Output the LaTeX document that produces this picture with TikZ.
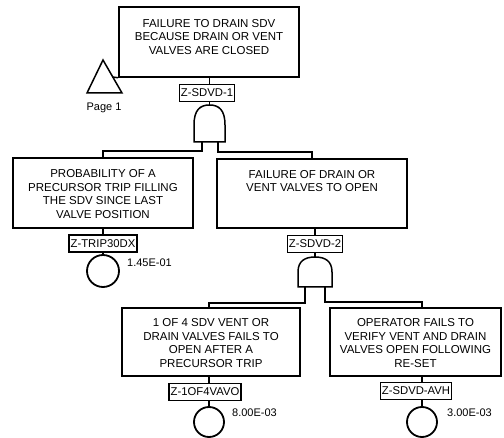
\documentclass[tikz,border=0pt]{standalone}
\usepackage{fontspec}
\setmainfont{Liberation Sans}
\tikzset{
 evbox/.style={draw, line width=1.5pt, inner sep=0pt},
 evtext/.style={align=center, font=\fontsize{11.5}{13.6}\selectfont, inner sep=0pt},
 lbl/.style={draw, line width=1.5pt, fill=white, font=\fontsize{11.3}{12}\selectfont, inner sep=1.5pt, minimum height=17pt},
 conn/.style={line width=1.5pt},
 gate/.style={line width=1.5pt},
 basic/.style={draw, circle, line width=1.8pt, inner sep=0pt},
 prob/.style={font=\fontsize{11}{12}\selectfont, anchor=west, inner sep=0pt},
}
\begin{document}
\begin{tikzpicture}[x=1pt,y=-1pt]
\useasboundingbox (0,0) rectangle (504,438);
% event boxes
\node[evbox, minimum width=180pt, minimum height=70pt] (top) at (209,42) {};
\node[evtext, anchor=north] (toptext) at (209,19) {FAILURE TO DRAIN SDV\\BECAUSE DRAIN OR VENT\\VALVES ARE CLOSED};
\node[evbox, minimum width=180pt, minimum height=70pt] (left) at (103,193) {};
\node[evtext] (lefttext) at (103,194) {PROBABILITY OF A\\PRECURSOR TRIP FILLING\\THE SDV SINCE LAST\\VALVE POSITION};
\node[evbox, minimum width=190pt, minimum height=69pt] (right) at (312,193.5) {};
\node[evtext, anchor=north] (righttext) at (312,170) {FAILURE OF DRAIN OR\\VENT VALVES TO OPEN};
\node[evbox, minimum width=178pt, minimum height=68pt] (bl) at (211,342) {};
\node[evtext] (bltext) at (211,343) {1 OF 4 SDV VENT OR\\DRAIN VALVES FAILS TO\\OPEN AFTER A\\PRECURSOR TRIP};
\node[evbox, minimum width=171pt, minimum height=68pt] (br) at (415.5,342) {};
\node[evtext] (brtext) at (415.5,343) {OPERATOR FAILS TO\\VERIFY VENT AND DRAIN\\VALVES OPEN FOLLOWING\\RE-SET};
% transfer triangle
\coordinate (triapex) at (103,60);
\coordinate (triR) at (122,93);
\coordinate (triL) at (87,93);
\coordinate (triside) at (112.5,77);
\draw[conn] (triapex) -- (triR) -- (triL) -- cycle;
\draw[conn] (triside) -- (top.south west);
\node[font=\fontsize{11}{12}\selectfont, inner sep=0pt] (page) at (104,108) {Page 1};
% labels
\node[lbl] (L1) at (207,93) {Z-SDVD-1};
\node[lbl] (L2) at (103,243.5) {Z-TRIP30DX};
\node[lbl] (L3) at (315,244) {Z-SDVD-2};
\node[lbl] (L4) at (205,392) {Z-1OF4VAVO};
\node[lbl] (L5) at (416,391) {Z-SDVD-AVH};
% basic events
\node[basic, minimum size=32pt] (c1) at (103,271) {};
\node[basic, minimum size=30pt] (c4) at (209,422) {};
\node[basic, minimum size=30pt] (c5) at (422,422) {};
\node[prob] (p1) at (127,263) {1.45E-01};
\node[prob] (p4) at (232,413) {8.00E-03};
\node[prob] (p5) at (447,413) {3.00E-03};
% AND gates
\coordinate (g1top) at (209.5,105);
\coordinate (g1l) at (202,142);
\coordinate (g1r) at (218,142);
\draw[gate] (194,142) -- (194,125) .. controls (194,110) and (200,105) .. (g1top) .. controls (219,105) and (225,110) .. (225,125) -- (225,142) -- cycle;
\coordinate (g2top) at (315,257);
\coordinate (g2l) at (305,287);
\coordinate (g2r) at (325,287);
\draw[gate] (298,287) -- (298,272) .. controls (298,261) and (305,257) .. (g2top) .. controls (325,257) and (332,261) .. (332,272) -- (332,287) -- cycle;
% connectors
\draw[conn] (L1.north -| g1top) -- (top.south -| g1top);
\draw[conn] (L1.south -| g1top) -- (g1top);
\draw[conn] (g1l) -- ++(0,9) -| (left.north);
\draw[conn] (g1r) -- ++(0,10) -| (right.north);
\draw[conn] (L2.north) -- (left.south -| L2.north);
\draw[conn] (L2.south) -- (c1.north);
\draw[conn] (L3.north) -- (right.south -| L3.north);
\draw[conn] (L3.south) -- (g2top);
\draw[conn] (g2l) -- ++(0,16) -| (bl.north -| c4);
\draw[conn] (g2r) -- ++(0,15) -| (br.north -| c5);
\draw[conn] (bl.south -| c4) -- (L4.north -| c4);
\draw[conn] (L4.south -| c4) -- (c4.north);
\draw[conn] (br.south -| c5) -- (L5.north -| c5);
\draw[conn] (L5.south -| c5) -- (c5.north);
\end{tikzpicture}
\end{document}
